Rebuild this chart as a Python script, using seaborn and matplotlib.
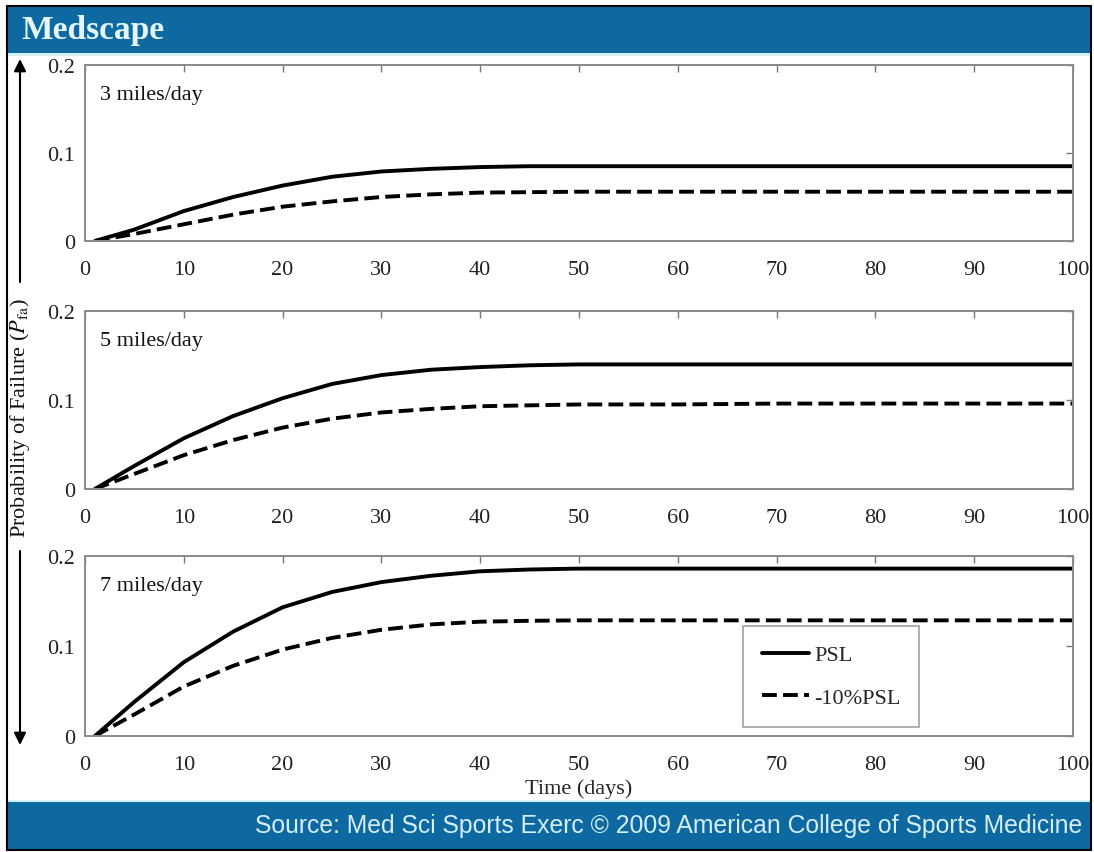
"""Probability of failure over time for three running distances (Medscape figure)."""
import matplotlib
matplotlib.use("Agg")
import matplotlib.pyplot as plt
from matplotlib.patches import Rectangle
import pandas as pd
import seaborn as sns

days = [1, 5, 10, 15, 20, 25, 30, 35, 40, 45, 50, 60, 70, 80, 90, 100]

psl_3 = [0, 0.013, 0.034, 0.050, 0.063, 0.073, 0.079, 0.082, 0.084, 0.085, 0.085,
         0.085, 0.085, 0.085, 0.085, 0.085]
low_3 = [0, 0.008, 0.019, 0.030, 0.039, 0.045, 0.050, 0.053, 0.055, 0.0555, 0.056,
         0.056, 0.056, 0.056, 0.056, 0.056]

psl_5 = [0, 0.026, 0.057, 0.082, 0.102, 0.118, 0.128, 0.134, 0.137, 0.139, 0.140,
         0.140, 0.140, 0.140, 0.140, 0.140]
low_5 = [0, 0.017, 0.038, 0.055, 0.069, 0.079, 0.086, 0.090, 0.093, 0.094, 0.095,
         0.095, 0.096, 0.096, 0.096, 0.096]

psl_7 = [0, 0.038, 0.082, 0.116, 0.143, 0.160, 0.171, 0.178, 0.183, 0.185, 0.186,
         0.186, 0.186, 0.186, 0.186, 0.186]
low_7 = [0, 0.024, 0.055, 0.078, 0.096, 0.109, 0.118, 0.124, 0.127, 0.128, 0.1285,
         0.1285, 0.1285, 0.1285, 0.1285, 0.1285]

panels = ["3 miles/day", "5 miles/day", "7 miles/day"]
series = [(psl_3, low_3), (psl_5, low_5), (psl_7, low_7)]
x_ticks = [0, 10, 20, 30, 40, 50, 60, 70, 80, 90, 100]
y_ticks = [0, 0.1, 0.2]
y_tick_labels = ["0", "0.1", "0.2"]

BLUE = "#0f69a1"
W, H = 1094, 853

sns.set_style("white")
plt.rcParams["font.family"] = ["Liberation Serif", "DejaVu Serif"]
plt.rcParams["mathtext.fontset"] = "stix"

fig = plt.figure(figsize=(W / 100, H / 100), dpi=100)
fig.patch.set_facecolor("white")


def fx(px):
    return px / W


def fy(py):
    return 1 - py / H


# banners and frame
fig.patches.append(Rectangle((fx(8), fy(54)), fx(1082), 46 / H, transform=fig.transFigure,
                             facecolor=BLUE, edgecolor="none", zorder=0))
fig.patches.append(Rectangle((fx(8), fy(57)), fx(1082), 3 / H, transform=fig.transFigure,
                             facecolor="#d2f2f8", edgecolor="none", zorder=0))
fig.patches.append(Rectangle((fx(8), fy(850)), fx(1082), 48 / H, transform=fig.transFigure,
                             facecolor=BLUE, edgecolor="none", zorder=0))
fig.patches.append(Rectangle((fx(8), fy(803)), fx(1082), 2 / H, transform=fig.transFigure,
                             facecolor="#d2f2f8", edgecolor="none", zorder=0))
fig.patches.append(Rectangle((fx(7), fy(851)), fx(1084), 844 / H, transform=fig.transFigure,
                             facecolor="none", edgecolor="black", linewidth=1.5, zorder=5))

fig.text(fx(21), fy(31), "Medscape", color="#e4f6fc", fontsize=24, weight="bold",
         ha="left", va="center")
fig.text(fx(1082), fy(826),
         "Source: Med Sci Sports Exerc \u00a9 2009 American College of Sports Medicine",
         color="#d4eefa", fontsize=17.8, family=["Liberation Sans", "DejaVu Sans"],
         ha="right", va="center")

tops = [66, 312, 557]
bottoms = [242, 490, 737]
styles = {"PSL": "", "-10%PSL": (3.8, 1.6)}

for i, (name, (psl, low)) in enumerate(zip(panels, series)):
    ax = fig.add_axes([fx(85), fy(bottoms[i]), fx(1073 - 85), (bottoms[i] - tops[i]) / H])
    df = pd.DataFrame({
        "day": days * 2,
        "prob": psl + low,
        "curve": ["PSL"] * len(days) + ["-10%PSL"] * len(days),
    })
    sns.lineplot(data=df, x="day", y="prob", style="curve", dashes=styles,
                 style_order=["PSL", "-10%PSL"], color="black", linewidth=2.8,
                 legend=(i == 2), ax=ax)
    ax.set_xlim(0, 100)
    ax.set_ylim(0, 0.2)
    ax.set_xticks(x_ticks)
    ax.set_yticks(y_ticks)
    ax.set_yticklabels(y_tick_labels)
    ax.set_xlabel("")
    ax.set_ylabel("")
    ax.tick_params(direction="in", length=5, width=1, color="#777777",
                   top=True, right=True, labelsize=16, labelcolor="#222222")
    ax.tick_params(axis="x", pad=14)
    ax.tick_params(axis="y", pad=7)
    for sp in ax.spines.values():
        sp.set_color("#8a8a8a")
        sp.set_linewidth(1.4)
    ax.text(0.015, 0.835, name, transform=ax.transAxes, fontsize=16,
            ha="left", va="center", color="#111111")
    if i == 2:
        leg = ax.legend(loc="lower left", bbox_to_anchor=(0.666, 0.05), fontsize=16,
                        frameon=True, fancybox=False, edgecolor="#8a8a8a",
                        handlelength=2.1, handletextpad=0.25, labelspacing=1.0,
                        borderpad=0.85, borderaxespad=0)
        leg.get_frame().set_linewidth(1.2)
        for line in leg.get_lines():
            line.set_linewidth(2.8)
        ax.set_xlabel("Time (days)", fontsize=16, labelpad=3)

# vertical y label with arrows
fig.text(fx(20), fy(418), r"Probability of Failure ($P_{\rm fa}$)", rotation=90,
         fontsize=16, ha="center", va="center", color="#111111")
fig.add_artist(plt.Annotation("", xy=(fx(20), fy(60)), xytext=(fx(20), fy(283)),
                              xycoords="figure fraction", textcoords="figure fraction",
                              arrowprops=dict(arrowstyle="-|>", color="black", lw=1.5,
                                              mutation_scale=18, shrinkA=0, shrinkB=0)))
fig.add_artist(plt.Annotation("", xy=(fx(20), fy(746)), xytext=(fx(20), fy(552)),
                              xycoords="figure fraction", textcoords="figure fraction",
                              arrowprops=dict(arrowstyle="-|>", color="black", lw=1.5,
                                              mutation_scale=18, shrinkA=0, shrinkB=0)))

fig.savefig("out.png", dpi=100, facecolor="white")
